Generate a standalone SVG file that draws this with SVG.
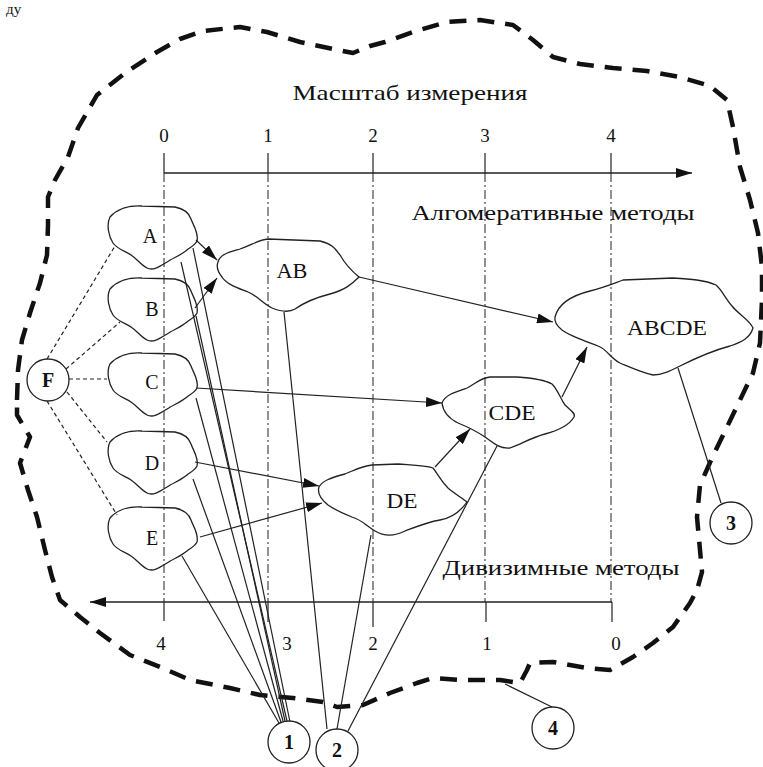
<svg xmlns="http://www.w3.org/2000/svg" width="763" height="767" viewBox="0 0 763 767" font-family="'Liberation Serif', 'DejaVu Serif', serif">
<style>
  text { font-family: 'Liberation Serif', 'DejaVu Serif', serif; }
  .txt { fill: #111; text-anchor: middle; }
  .title { font-size: 22px; }
  .num { font-size: 19px; }
  .node { font-size: 20px; }
  .bold { font-size: 20px; font-weight: bold; }
  .frag { font-size: 15px; text-anchor: start; }
  .cloud { fill: none; stroke: #222; stroke-width: 1.3; stroke-linejoin: round; }
  .axis { stroke: #222; stroke-width: 1.5; fill: none; }
  .tick { stroke: #222; stroke-width: 1.2; }
  .grid { stroke: #222; stroke-width: 1; stroke-dasharray: 9 3 2 3; }
  .ln { stroke: #222; stroke-width: 1.2; fill: none; }
  .arr { marker-end: url(#ah); }
  .fdash { stroke: #222; stroke-width: 1.2; stroke-dasharray: 4 3; fill: none; }
  .boundary { fill: none; stroke: #111; stroke-width: 4.5; stroke-dasharray: 17 11; stroke-linejoin: round; }
  .circ { fill: #fff; stroke: #222; stroke-width: 1.3; }
</style>
<defs>
  <marker id="ah" viewBox="0 0 16 10" refX="16" refY="5" markerWidth="16" markerHeight="10" markerUnits="userSpaceOnUse" orient="auto">
    <path d="M0,0 L16,5 L0,10 Z" fill="#111"/>
  </marker>
  <!-- small cluster outline, 90 x 65 -->
  <path id="smallCloud" d="M3,12 C10,4 22,0 35,1 L68,2 C78,4 82,8 84,14 C86,20 92,28 90,36 C88,40 84,42 80,45 C74,50 66,53 60,57 C52,62 46,66 40,63 C34,60 30,54 24,50 C18,46 10,44 6,38 C2,32 -1,20 3,12 Z"/>
</defs>

<rect width="763" height="767" fill="#fff"/>

<!-- caption fragment at the top edge -->
<text class="txt frag" x="6" y="14">ду</text>

<!-- outer thick dashed boundary -->
<path id="boundary" class="boundary" d="M17,400 L18,370 L22,340 L30,313 L40,283 L47,255 L48,225 L48,197 L55,180 L68,157 L78,128 L97,95 L125,73 L157,52 L180,39 L203,31 L240,27 L267,32 L300,42 L333,49 L353,53 L370,46 L385,42 L413,32 L447,22 L480,20 L513,25 L533,40 L553,57 L580,64 L613,68 L647,71 L680,77 L710,86 L727,100 L733,127 L740,167 L750,200 L758,233 L762,267 L762,300 L760,343 L753,373 L740,400 L727,427 L712,458 L700,485 L697,517 L700,550 L702,572 L697,590 L690,603 L673,627 L653,643 L633,657 L610,670 L587,668 L553,662 L530,663 L527,670 L520,683 L500,680 L460,680 L433,678 L417,683 L390,693 L363,705 L337,707 L323,702 L293,698 L260,695 L230,688 L190,680 L160,667 L130,655 L100,633 L80,617 L60,600 L52,577 L45,550 L37,517 L28,490 L20,463 L30,437 L17,415 Z"/>

<!-- measurement scale -->
<g id="scale">
  <text class="txt title" x="410" y="100" textLength="235" lengthAdjust="spacingAndGlyphs">Масштаб измерения</text>
  <g class="txt num">
    <text x="164" y="142">0</text>
    <text x="268" y="142">1</text>
    <text x="373" y="142">2</text>
    <text x="485" y="142">3</text>
    <text x="611" y="142">4</text>
  </g>
  <line class="axis" x1="164" y1="173" x2="692" y2="173" marker-end="url(#ah)"/>
  <g class="tick">
    <line x1="164" y1="153" x2="164" y2="173"/>
    <line x1="268" y1="153" x2="268" y2="173"/>
    <line x1="373" y1="153" x2="373" y2="173"/>
    <line x1="485" y1="153" x2="485" y2="173"/>
    <line x1="611" y1="153" x2="611" y2="173"/>
  </g>
  <g class="grid">
    <line x1="164" y1="173" x2="164" y2="602"/>
    <line x1="268" y1="173" x2="268" y2="602"/>
    <line x1="373" y1="173" x2="373" y2="602"/>
    <line x1="485" y1="173" x2="485" y2="602"/>
    <line x1="611" y1="173" x2="611" y2="602"/>
  </g>
  <text class="txt title" x="553" y="220" textLength="283" lengthAdjust="spacingAndGlyphs">Алгомеративные методы</text>
  <text class="txt title" x="561" y="575" textLength="237" lengthAdjust="spacingAndGlyphs">Дивизимные методы</text>
  <line class="axis" x1="612" y1="602" x2="90" y2="602" marker-end="url(#ah)"/>
  <g class="tick">
    <line x1="164" y1="602" x2="164" y2="621"/>
    <line x1="268" y1="602" x2="268" y2="622"/>
    <line x1="373" y1="602" x2="373" y2="627"/>
    <line x1="486" y1="602" x2="486" y2="622"/>
    <line x1="612" y1="602" x2="612" y2="622"/>
  </g>
  <g class="txt num">
    <text x="161" y="650">4</text>
    <text x="287" y="650">3</text>
    <text x="373" y="650">2</text>
    <text x="487" y="650">1</text>
    <text x="616" y="650">0</text>
  </g>
</g>

<!-- connectors -->
<g id="connectors">
  <!-- merge arrows -->
  <line class="ln arr" x1="196" y1="240" x2="217" y2="260"/>
  <line class="ln arr" x1="195" y1="308" x2="217" y2="278"/>
  <line class="ln arr" x1="359" y1="277" x2="553" y2="322"/>
  <line class="ln arr" x1="196" y1="388" x2="442" y2="403"/>
  <line class="ln arr" x1="562" y1="397" x2="587" y2="347"/>
  <line class="ln arr" x1="195" y1="462" x2="319" y2="486"/>
  <line class="ln arr" x1="200" y1="537" x2="322" y2="503"/>
  <line class="ln arr" x1="435" y1="467" x2="470" y2="429"/>
  <!-- F to the objects -->
  <line class="fdash" x1="47" y1="359" x2="115" y2="246"/>
  <line class="fdash" x1="66" y1="369" x2="120" y2="322"/>
  <line class="fdash" x1="69" y1="379" x2="107" y2="379"/>
  <line class="fdash" x1="67" y1="392" x2="107" y2="442"/>
  <line class="fdash" x1="47" y1="401" x2="117" y2="515"/>
  <!-- callout 1 -->
  <line class="ln" x1="193" y1="248" x2="290" y2="722"/>
  <line class="ln" x1="181" y1="262" x2="287" y2="721"/>
  <line class="ln" x1="196" y1="316" x2="285" y2="721"/>
  <line class="ln" x1="196" y1="398" x2="283" y2="721"/>
  <line class="ln" x1="193" y1="479" x2="281" y2="722"/>
  <line class="ln" x1="182" y1="556" x2="279" y2="723"/>
  <!-- callout 2 -->
  <line class="ln" x1="284" y1="312" x2="327" y2="729"/>
  <line class="ln" x1="371" y1="535" x2="337" y2="729"/>
  <line class="ln" x1="497" y1="446" x2="348" y2="731"/>
  <!-- callout 3 -->
  <line class="ln" x1="678" y1="368" x2="721" y2="503"/>
  <!-- callout 4 -->
  <line class="ln" x1="552" y1="707" x2="505" y2="684"/>
</g>

<!-- objects -->
<g id="nodeA"><use href="#smallCloud" class="cloud" transform="translate(107,205)"/><text class="txt node" x="150" y="243">A</text></g>
<g id="nodeB"><use href="#smallCloud" class="cloud" transform="translate(107,277)"/><text class="txt node" x="152" y="316">B</text></g>
<g id="nodeC"><use href="#smallCloud" class="cloud" transform="translate(107,352)"/><text class="txt node" x="152" y="389">C</text></g>
<g id="nodeD"><use href="#smallCloud" class="cloud" transform="translate(107,430)"/><text class="txt node" x="152" y="470">D</text></g>
<g id="nodeE"><use href="#smallCloud" class="cloud" transform="translate(107,506)"/><text class="txt node" x="152" y="545">E</text></g>

<!-- clusters -->
<g id="nodeAB">
  <path class="cloud" d="M218,262 C220,254 230,252 240,249 C252,245 258,240 268,239 L320,241 C333,244 336,250 340,255 C344,262 348,268 359,277 C352,284 345,290 330,294 C318,297 305,302 295,309 C290,312 282,312 272,308 C262,303 258,296 248,292 C238,288 226,284 222,277 C218,272 216,267 218,262 Z"/>
  <text class="txt node" x="292" y="278" textLength="31" lengthAdjust="spacingAndGlyphs">AB</text>
</g>
<g id="nodeDE">
  <path class="cloud" d="M319,487 C322,481 330,478 345,474 C355,470 362,466 372,465 L398,464 C412,465 425,465 433,468 C438,474 440,480 448,488 C455,494 462,498 467,502 C460,512 452,518 440,520 C428,522 418,526 405,531 C395,536 385,537 375,531 C365,525 362,520 352,517 C342,513 335,510 328,505 C322,500 317,493 319,487 Z"/>
  <text class="txt node" x="402" y="508" textLength="31" lengthAdjust="spacingAndGlyphs">DE</text>
</g>
<g id="nodeCDE">
  <path class="cloud" d="M442,403 C445,395 455,392 467,388 C475,384 480,378 490,377 L517,377 C532,378 545,380 552,384 C558,390 560,398 565,405 C570,410 576,413 574,417 C570,424 560,430 545,434 C530,438 522,444 510,448 C500,449 493,443 485,437 C476,431 468,427 458,423 C450,419 443,412 442,403 Z"/>
  <text class="txt node" x="512" y="420" textLength="47" lengthAdjust="spacingAndGlyphs">CDE</text>
</g>
<g id="nodeABCDE">
  <path class="cloud" d="M555,317 C558,305 570,296 590,291 C605,287 612,284 623,280 L673,278 C690,279 705,280 716,285 C722,290 725,298 732,306 C738,314 750,320 753,328 C750,338 742,342 730,346 C715,350 700,356 680,366 C670,371 662,375 653,375 C643,373 632,368 620,363 C610,358 608,350 598,346 C585,341 570,336 562,330 C557,326 554,322 555,317 Z"/>
  <text class="txt node" x="667" y="335" textLength="80" lengthAdjust="spacingAndGlyphs">ABCDE</text>
</g>

<!-- numbered callouts -->
<g id="markF"><circle class="circ" cx="48" cy="380" r="21"/><text class="txt bold" x="48" y="387">F</text></g>
<g id="mark1"><circle class="circ" cx="289" cy="742" r="21"/><text class="txt bold" x="289" y="749">1</text></g>
<g id="mark2"><circle class="circ" cx="337" cy="750" r="21"/><text class="txt bold" x="337" y="757">2</text></g>
<g id="mark3"><circle class="circ" cx="731" cy="523" r="21"/><text class="txt bold" x="731" y="530">3</text></g>
<g id="mark4"><circle class="circ" cx="553" cy="728" r="21"/><text class="txt bold" x="553" y="735">4</text></g>
</svg>
